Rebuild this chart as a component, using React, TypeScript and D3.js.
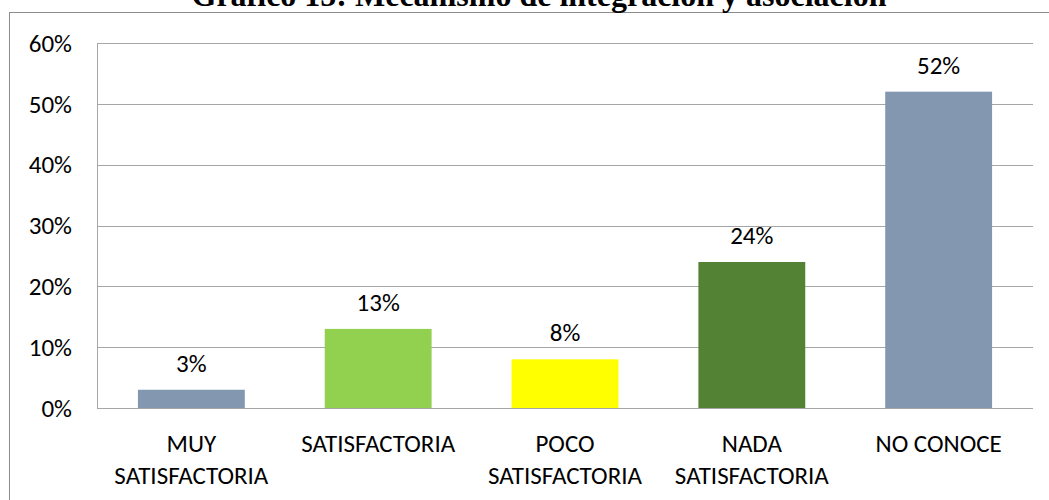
import React, { useEffect, useRef } from 'react';
import * as d3 from 'd3';

const categories = ['MUY SATISFACTORIA', 'SATISFACTORIA', 'POCO SATISFACTORIA', 'NADA SATISFACTORIA', 'NO CONOCE'];
const labelLines = [['MUY', 'SATISFACTORIA'], ['SATISFACTORIA'], ['POCO', 'SATISFACTORIA'], ['NADA', 'SATISFACTORIA'], ['NO CONOCE']];
const values = [3, 13, 8, 24, 52];
const colors = ['#8497B0', '#92D050', '#FFFF00', '#548235', '#8497B0'];
const yTicks = [0, 10, 20, 30, 40, 50, 60];

const App = () => {
  const svgRef = useRef<SVGSVGElement>(null);

  useEffect(() => {
    const width = 1049;
    const height = 500;
    const margin = { top: 43, right: 16, bottom: 92, left: 97 };
    const innerWidth = width - margin.left - margin.right;
    const innerHeight = height - margin.top - margin.bottom;
    const font = 'Carlito, Calibri, "Open Sans", sans-serif';

    const svg = d3.select(svgRef.current);
    svg.selectAll('*').remove();
    svg.attr('width', width).attr('height', height);

    // outer frame
    svg.append('rect')
      .attr('x', 9.5).attr('y', 12.5)
      .attr('width', width).attr('height', height)
      .attr('fill', 'white')
      .attr('stroke', '#8C8C8C');

    svg.append('text')
      .attr('x', 539)
      .attr('y', 6)
      .attr('text-anchor', 'middle')
      .style('font-family', '"Liberation Serif", "Times New Roman", serif')
      .style('font-size', '32px')
      .style('font-weight', 'bold')
      .text('Gráfico 15: Mecanismo de integración y asociación');

    const x = d3.scaleBand().domain(categories).range([0, innerWidth]).paddingInner(0.428).paddingOuter(0.219);
    const y = d3.scaleLinear().domain([0, 60]).range([innerHeight, 0]);

    const g = svg.append('g').attr('transform', `translate(${margin.left},${margin.top})`);

    g.selectAll('.grid')
      .data(yTicks)
      .enter().append('line')
      .attr('x1', 0).attr('x2', innerWidth)
      .attr('y1', d => Math.round(y(d)) + 0.5).attr('y2', d => Math.round(y(d)) + 0.5)
      .attr('stroke', '#A6A6A6');

    g.append('line')
      .attr('x1', 0.5).attr('x2', 0.5)
      .attr('y1', 0).attr('y2', innerHeight)
      .attr('stroke', '#A6A6A6');

    g.selectAll('.ytick')
      .data(yTicks)
      .enter().append('text')
      .attr('x', -25)
      .attr('y', d => y(d))
      .attr('dy', '0.35em')
      .attr('text-anchor', 'end')
      .style('font-family', font)
      .style('font-size', '25px')
      .text(d => `${d}%`);

    g.selectAll('.bar')
      .data(values)
      .enter().append('rect')
      .attr('x', (d, i) => x(categories[i])!)
      .attr('y', d => y(d))
      .attr('width', x.bandwidth())
      .attr('height', d => innerHeight - y(d))
      .attr('fill', (d, i) => colors[i]);

    g.selectAll('.val')
      .data(values)
      .enter().append('text')
      .attr('x', (d, i) => x(categories[i])! + x.bandwidth() / 2)
      .attr('y', d => y(d) - 18)
      .attr('text-anchor', 'middle')
      .style('font-family', font)
      .style('font-size', '25px')
      .text(d => `${d}%`);

    labelLines.forEach((lines, i) => {
      const t = g.append('text')
        .attr('x', x(categories[i])! + x.bandwidth() / 2)
        .attr('y', innerHeight + 44)
        .attr('text-anchor', 'middle')
        .style('font-family', font)
        .style('font-size', '25px');
      lines.forEach((l, j) => {
        t.append('tspan')
          .attr('x', x(categories[i])! + x.bandwidth() / 2)
          .attr('dy', j === 0 ? 0 : 32)
          .text(l);
      });
    });
  }, []);

  return <svg ref={svgRef} style={{ position: 'absolute', left: 0, top: 0, display: 'block' }}></svg>;
};

export default App;
